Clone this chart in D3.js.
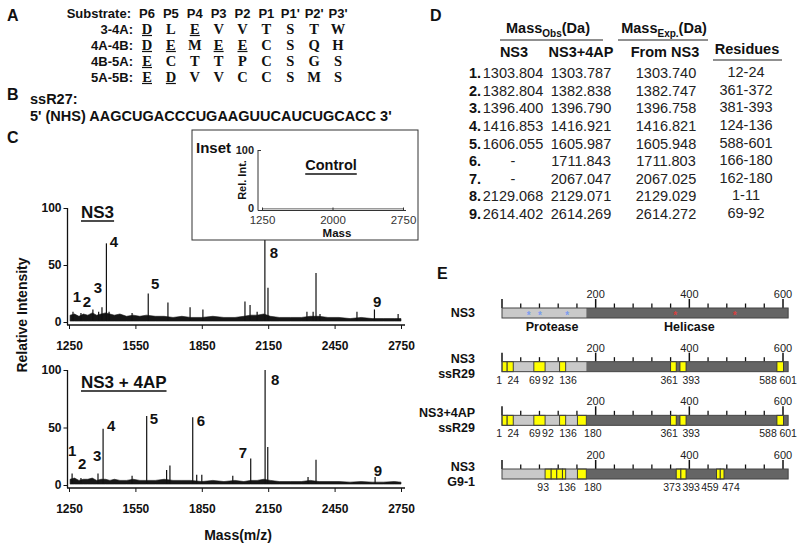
<!DOCTYPE html>
<html><head><meta charset="utf-8">
<script src="https://cdn.jsdelivr.net/npm/d3@7"></script>
<style>
body{margin:0;background:#fff}
svg{display:block}
text{font-family:'Liberation Sans',Arial,Helvetica,sans-serif}
</style>
</head><body>
<svg id="c" width="800" height="549" fill="#111"></svg>
<script>
// ---------------- DATA ----------------
// Panel A
const positions = ["P6","P5","P4","P3","P2","P1","P1'","P2'","P3'"];
const substrateNames = ["3-4A:","4A-4B:","4B-5A:","5A-5B:"];
const substrateSeqs = [
  ["D","L","E","V","V","T","S","T","W"],
  ["D","E","M","E","E","C","S","Q","H"],
  ["E","C","T","T","P","C","S","G","S"],
  ["E","D","V","V","C","C","S","M","S"]
];
const underlined = [
  [1,0,1,0,0,0,0,0,0],
  [1,1,0,1,1,0,0,0,0],
  [1,0,0,0,0,0,0,0,0],
  [1,1,0,0,0,0,0,0,0]
];
// Panel B
const rnaName = "ssR27:";
const rnaSeq = "5' (NHS) AAGCUGACCCUGAAGUUCAUCUGCACC 3'";

// Panel C  (mass axis)
const massTicks = [1250,1550,1850,2150,2450,2750];
const intTicks = [0,50,100];
// baseline noise envelope grid (m/z)
const noiseMass = [1255,1275,1295,1315,1335,1355,1375,1395,1415,1435,1455,1480,1510,1540,1570,1600,1640,1680,1720,1760,1800,1850,1900,1950,2000,2040,2070,2100,2130,2160,2200,2250,2300,2340,2380,2420,2470,2520,2570,2620,2670,2720,2750];
// NS3 spectrum
const ns3PeakMass = [1268,1304,1358,1384,1399,1419,1431,1535,1608,1697,1797,1855,2045,2068,2100,2135,2149,2325,2353,2366,2384,2551,2630,2737];
const ns3PeakInt  = [9,8,11,9,13,69,9,8,25,17,13,11,18,15,9,100,30,9,9,43,7,9,11,7];
const ns3NoiseInt = [6,7,5,7,6,8,6,7,8,7,6,7,5,6,5,6,5,5,4,5,4,4,5,4,4,5,6,6,7,5,4,4,4,5,5,4,4,3,4,3,3,3,3];
const ns3LabelText = ["1","2","3","4","5","8","9"];
const ns3LabelMass = [1286,1331,1381,1453,1639,2176,2642];
const ns3LabelInt  = [22,18,30,71,34,61,18];
// NS3 + 4AP spectrum
const apPeakMass = [1264,1304,1381,1404,1535,1601,1691,1706,1809,1827,1850,1990,2071,2136,2148,2330,2366,2633];
const apPeakInt  = [10,6,10,49,8,60,13,17,59,9,9,8,23,100,33,7,22,7];
const apNoiseInt = [5,6,4,5,5,6,4,5,5,4,5,4,4,5,4,4,4,5,4,4,4,3,4,3,4,3,4,4,5,4,3,3,3,4,3,3,3,2.5,3,2.5,2.5,3,2.5];
const apLabelText = ["1","2","3","4","5","6","7","8","9"];
const apLabelMass = [1264,1309,1377,1440,1634,1846,2036,2181,2646];
const apLabelInt  = [30,19,26,52,58,56,28,92,13];
// Inset (control)
const insetTicks = [1250,2000,2750];
const insetIntTicks = [0,100];
const controlMass = [1250,1500,1750,2000,2250,2500,2750];
const controlInt  = [2,2,2,2,2,2,2];

// Panel D
const rowNums = ["1.","2.","3.","4.","5.","6.","7.","8.","9."];
const massObsNS3 = ["1303.804","1382.804","1396.400","1416.853","1606.055","-","-","2129.068","2614.402"];
const massObsAP  = ["1303.787","1382.838","1396.790","1416.921","1605.987","1711.843","2067.047","2129.071","2614.269"];
const massExp    = ["1303.740","1382.747","1396.758","1416.821","1605.948","1711.803","2067.025","2129.029","2614.272"];
const residues   = ["12-24","361-372","381-393","124-136","588-601","166-180","162-180","1-11","69-92"];

// Panel E
const ns3Length = 611;
const proteaseEnd = 180;
const residueTicks = d3.range(0, 601, 40);
const majorResidueTicks = [0,200,400,600];
const constructNames = [["NS3"],["NS3","ssR29"],["NS3+4AP","ssR29"],["NS3","G9-1"]];
const protectedSegs = [
  [],
  [[1,11],[12,24],[69,92],[124,136],[361,372],[381,393],[588,601]],
  [[1,11],[12,24],[69,92],[124,136],[162,180],[361,372],[381,393],[588,601]],
  [[93,105],[106,117],[118,129],[130,136],[162,180],[373,382],[383,393],[459,466],[467,474]]
];
const residueLabelText = [
  [],
  ["1","24","69","92","136","361","393","588","601"],
  ["1","24","69","92","136","180","361","393","588","601"],
  ["93","136","180","373","393","459","474"]
];
const residueLabelPos = [
  [],
  [-6,24,70,98,141,357,404,568,611],
  [-6,24,70,98,141,194,357,404,568,611],
  [88,139,194,363,404,444,489]
];
const proteaseSites = [57,81,139];
const helicaseSites = [370,497];

// ---------------- DRAW ----------------
const svg = d3.select("#c");
function T(parent, x, y, s, size, weight, anchor, extra) {
  const t = parent.append("text").attr("x", x).attr("y", y).text(s)
    .attr("font-size", size).attr("font-weight", weight || "normal")
    .attr("text-anchor", anchor || "start").attr("dominant-baseline", "central")
    .style("fill", "#111");
  if (extra) extra(t);
  return t;
}

// panel letters
[["A",7,15],["B",7,94],["C",7,137],["D",430,15],["E",437,273]].forEach(d =>
  T(svg, d[1], d[2], d[0], 16, "bold"));

// ----- Panel A
const gA = svg.append("g");
const colX = d3.scalePoint().domain(positions).range([147,338]);
const rowY = d3.scalePoint().domain(["Substrate:", ...substrateNames]).range([13,77]);
T(gA, 131, rowY("Substrate:"), "Substrate:", 13, "bold", "end");
positions.forEach(p => T(gA, colX(p), rowY("Substrate:"), p, 13, "bold", "middle"));
substrateNames.forEach((n, i) => {
  T(gA, 133, rowY(n), n, 13, "bold", "end");
  substrateSeqs[i].forEach((aa, j) => {
    const xx = colX(positions[j]), yy = rowY(n);
    T(gA, xx, yy, aa, 14.5, "bold", "middle", t => t.style("font-family", "'Liberation Serif','Times New Roman',serif"));
    if (underlined[i][j]) gA.append("line").attr("x1", xx-5).attr("x2", xx+5)
      .attr("y1", yy+6.5).attr("y2", yy+6.5).attr("stroke", "#111").attr("stroke-width", 1.2);
  });
});

// ----- Panel B
T(svg, 30, 99, rnaName, 14.5, "bold");
T(svg, 30, 116, rnaSeq, 14.5, "bold");

// ----- Panel C
const x = d3.scaleLinear().domain([1250,2750]).range([69,401]);
const spectra = [
  {title:"NS3", y:d3.scaleLinear().domain([0,100]).range([322,208]), axisY:325, titleY:212,
   pm:ns3PeakMass, pi:ns3PeakInt, ni:ns3NoiseInt, lt:ns3LabelText, lm:ns3LabelMass, li:ns3LabelInt},
  {title:"NS3 + 4AP", y:d3.scaleLinear().domain([0,100]).range([485,370]), axisY:488, titleY:382,
   pm:apPeakMass, pi:apPeakInt, ni:apNoiseInt, lt:apLabelText, lm:apLabelMass, li:apLabelInt}
];
spectra.forEach(s => {
  const g = svg.append("g");
  const y = s.y;
  // noise band
  const noise = noiseMass.map((m, i) => ({m, v: s.ni[i]}));
  g.append("path").datum(noise)
    .attr("d", d3.area().x(d => x(d.m)).y0(y(0.8)).y1(d => y(d.v)))
    .attr("fill", "#161616").attr("stroke", "#161616").attr("stroke-width", 0.6);
  // peaks
  g.selectAll("line.pk").data(s.pm.map((m, i) => ({m, v: s.pi[i]}))).join("line")
    .attr("x1", d => x(d.m)).attr("x2", d => x(d.m))
    .attr("y1", y(1)).attr("y2", d => y(d.v))
    .attr("stroke", "#111").attr("stroke-width", 1.2);
  // x axis
  const xa = g.append("g").attr("transform", `translate(0,${s.axisY})`)
    .call(d3.axisBottom(x).tickValues(massTicks).tickFormat(d3.format("d")).tickSize(4).tickPadding(12).tickSizeOuter(0));
  xa.select(".domain").remove();
  xa.append("line").attr("x1", x(1250)-2).attr("x2", x(2750)+4).attr("stroke", "#111").attr("stroke-width", 1.3);
  xa.selectAll("text").attr("font-size", 12).attr("font-weight", "bold").style("fill", "#111");
  xa.selectAll(".tick line").attr("stroke", "#111");
  // y axis
  const ya = g.append("g").attr("transform", `translate(${x(1250)-1.5},0)`)
    .call(d3.axisLeft(y).tickValues(intTicks).tickSize(4).tickPadding(2).tickSizeOuter(0));
  ya.select(".domain").remove();
  ya.append("line").attr("y1", y(100)).attr("y2", s.axisY).attr("stroke", "#111").attr("stroke-width", 1.3);
  ya.selectAll("text").attr("font-size", 12).attr("font-weight", "bold").style("fill", "#111");
  ya.selectAll(".tick line").attr("stroke", "#111");
  // title
  const tt = T(g, 81, s.titleY, s.title, 17, "bold");
  const w = tt.node().getComputedTextLength();
  g.append("line").attr("x1", 81).attr("x2", 81 + w).attr("y1", s.titleY + 9).attr("y2", s.titleY + 9)
    .attr("stroke", "#111").attr("stroke-width", 1.5);
  // peak labels
  s.lt.forEach((t, i) => T(g, x(s.lm[i]), y(s.li[i]), t, 15, "bold", "middle"));
});
// axis titles
T(svg, 0, 0, "Relative Intensity", 14, "bold", "middle", t => t.attr("transform", "translate(22,315) rotate(-90)"));
T(svg, 238, 535, "Mass(m/z)", 14, "bold", "middle");

// Inset
const gI = svg.append("g");
gI.append("rect").attr("x", 192).attr("y", 130).attr("width", 226).attr("height", 110)
  .attr("fill", "#fff").attr("stroke", "#333").attr("stroke-width", 1);
const xi = d3.scaleLinear().domain([1250,2750]).range([262,403]);
const yi = d3.scaleLinear().domain([0,100]).range([210,150]);
gI.append("path").datum(controlMass.map((m, i) => ({m, v: controlInt[i]})))
  .attr("d", d3.line().x(d => xi(d.m)).y(d => yi(d.v))).attr("fill", "none")
  .attr("stroke", "#9a9a9a").attr("stroke-width", 1.5);
const xia = gI.append("g").attr("transform", "translate(0,210.5)")
  .call(d3.axisBottom(xi).tickValues(insetTicks).tickFormat(d3.format("d")).tickSize(-3).tickPadding(5.5).tickSizeOuter(0));
xia.select(".domain").remove();
xia.append("line").attr("x1", 258).attr("x2", 406).attr("stroke", "#333").attr("stroke-width", 1);
xia.selectAll("text").attr("font-size", 11.5).style("fill", "#333");
xia.selectAll(".tick line").attr("stroke", "#333");
const yia = gI.append("g").attr("transform", "translate(258,0)")
  .call(d3.axisLeft(yi).tickValues(insetIntTicks).tickSize(-3).tickPadding(4).tickSizeOuter(0));
yia.select(".domain").remove();
yia.append("line").attr("y1", yi(100)).attr("y2", 210.5).attr("stroke", "#333").attr("stroke-width", 1);
yia.selectAll("text").attr("font-size", 11).attr("font-weight", "bold").style("fill", "#222");
yia.selectAll(".tick").filter(d => d === 0).select("text").attr("dy", "0.1em");
yia.selectAll(".tick line").attr("stroke", "#333");
T(gI, 196, 147, "Inset", 15, "bold");
const ct = T(gI, 331, 165, "Control", 14.5, "bold", "middle");
const cw = ct.node().getComputedTextLength();
gI.append("line").attr("x1", 331 - cw/2).attr("x2", 331 + cw/2).attr("y1", 174).attr("y2", 174)
  .attr("stroke", "#111").attr("stroke-width", 1.3);
T(gI, 337, 233, "Mass", 11.5, "bold", "middle");
T(gI, 0, 0, "Rel. Int.", 11, "bold", "middle", t => t.attr("transform", "translate(242,180) rotate(-90)"));

// ----- Panel D
const gD = svg.append("g");
const hdrSize = 14.5;
function subHeader(cx, main, sub) {
  const t = gD.append("text").attr("x", cx).attr("y", 28).attr("text-anchor", "middle")
    .attr("dominant-baseline", "central").attr("font-weight", "bold").attr("font-size", hdrSize).style("fill", "#111");
  t.append("tspan").text(main);
  t.append("tspan").text(sub).attr("font-size", 10).attr("dy", 5);
  t.append("tspan").text("(Da)").attr("dy", -5);
}
subHeader(548, "Mass", "Obs");
subHeader(664, "Mass", "Exp.");
gD.append("line").attr("x1", 500).attr("x2", 603).attr("y1", 40).attr("y2", 40).attr("stroke", "#222").attr("stroke-width", 1.2);
gD.append("line").attr("x1", 618).attr("x2", 708).attr("y1", 40).attr("y2", 40).attr("stroke", "#222").attr("stroke-width", 1.2);
T(gD, 514, 52, "NS3", hdrSize, "bold", "middle");
T(gD, 581, 52, "NS3+4AP", hdrSize, "bold", "middle");
T(gD, 665, 52, "From NS3", hdrSize, "bold", "middle");
T(gD, 747, 49, "Residues", hdrSize, "bold", "middle");
gD.append("line").attr("x1", 713).attr("x2", 782).attr("y1", 60).attr("y2", 60).attr("stroke", "#222").attr("stroke-width", 1.2);
const rowYD = d3.scaleLinear().domain([0, 8]).range([73, 214]);
rowNums.forEach((r, i) => {
  const yy = rowYD(i);
  T(gD, 481, yy, r, 14.5, "bold", "end");
  [[513, massObsNS3[i]], [581, massObsAP[i]], [666, massExp[i]], [746, residues[i]]].forEach(c =>
    T(gD, c[0], c[0] === 746 ? yy - 1 : yy, c[1], 14.5, "normal", "middle", t => t.style("fill", "#222")));
});

// ----- Panel E
const gE = svg.append("g");
const xe = d3.scaleLinear().domain([0,600]).range([502,783]);
const barH = 10;
const rowTop = d3.scaleLinear().domain([0,3]).range([308,469]);
constructNames.forEach((names, i) => {
  const top = rowTop(i), g = gE.append("g");
  // ticks
  residueTicks.forEach(r => {
    const major = majorResidueTicks.includes(r);
    g.append("line").attr("x1", xe(r)).attr("x2", xe(r)).attr("y1", top).attr("y2", top - (major ? 9 : 4.5))
      .attr("stroke", "#111").attr("stroke-width", major ? 1.5 : 1.3);
    if (major && r > 0) T(g, xe(r), top - 14, String(r), 11, "normal", "middle", t => t.style("fill", "#222"));
  });
  // domains
  g.append("rect").attr("x", xe(0)).attr("y", top).attr("width", xe(proteaseEnd) - xe(0)).attr("height", barH)
    .attr("fill", "#c9c9c9");
  g.append("rect").attr("x", xe(proteaseEnd)).attr("y", top).attr("width", xe(ns3Length) - xe(proteaseEnd)).attr("height", barH)
    .attr("fill", "#656565");
  // protected segments
  g.selectAll("rect.seg").data(protectedSegs[i]).join("rect")
    .attr("x", d => xe(d[0] - 1)).attr("y", top).attr("width", d => xe(d[1]) - xe(d[0] - 1)).attr("height", barH)
    .attr("fill", "#ffff00").attr("stroke", "#333").attr("stroke-width", 0.9);
  g.append("rect").attr("x", xe(0)).attr("y", top).attr("width", xe(ns3Length) - xe(0)).attr("height", barH)
    .attr("fill", "none").attr("stroke", "#444").attr("stroke-width", 1);
  // names
  const cy = top + barH / 2;
  if (names.length === 1) T(g, 475, cy, names[0], 12.5, "bold", "end");
  else { T(g, 475, cy - 7.5, names[0], 12.5, "bold", "end"); T(g, 475, cy + 7.5, names[1], 12.5, "bold", "end"); }
  // residue labels
  residueLabelText[i].forEach((t, j) => T(g, xe(residueLabelPos[i][j]), top + barH + 8, t, 10.5, "normal", "middle", s => s.style("fill", "#222")));
  if (i === 0) {
    proteaseSites.forEach(r => T(g, xe(r), cy + 2, "*", 10, "bold", "middle", s => s.style("fill", "#7a9cf0")));
    helicaseSites.forEach(r => T(g, xe(r), cy + 2, "*", 10, "bold", "middle", s => s.style("fill", "#d84040")));
    T(g, xe(107), top + barH + 9, "Protease", 12.5, "bold", "middle");
    T(g, xe(400), top + barH + 9, "Helicase", 12.5, "bold", "middle");
  }
});
</script>
</body></html>
